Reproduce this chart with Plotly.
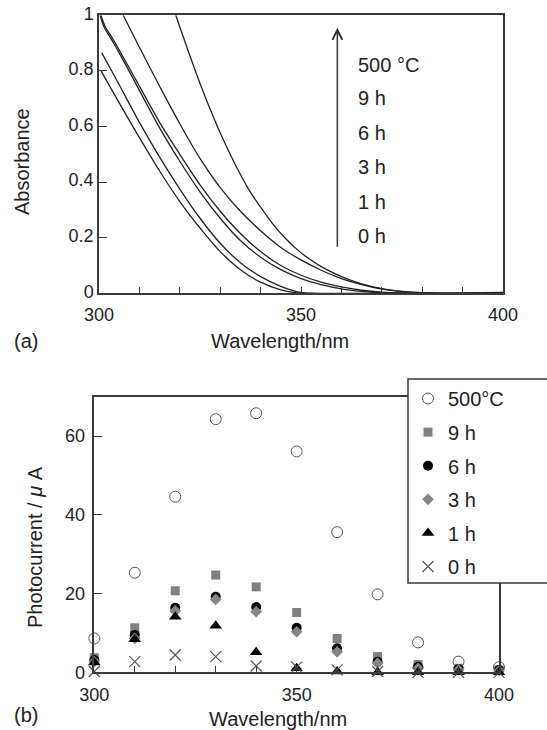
import plotly.graph_objects as go

# ---------------------------------------------------------------------------
# (a) absorbance spectra
# ---------------------------------------------------------------------------
abs_0h_x = [300.5, 305, 310, 315, 320, 325, 330, 335, 340, 345, 348, 350, 360, 380, 400]
abs_0h_y = [0.80, 0.685, 0.56, 0.44, 0.33, 0.235, 0.15, 0.085, 0.04, 0.012, 0.003, 0.0, 0.0, 0.0, 0.0]

abs_1h_x = [300.7, 305, 310, 315, 320, 325, 330, 335, 340, 345, 348, 350, 353, 380, 400]
abs_1h_y = [0.865, 0.75, 0.615, 0.49, 0.375, 0.27, 0.18, 0.11, 0.06, 0.025, 0.01, 0.003, 0.0, 0.0, 0.0]

abs_3h_x = [300.3, 301.2, 303, 305, 310, 315, 320, 325, 330, 335, 340, 345, 350, 355, 360, 365, 370, 375, 400]
abs_3h_y = [1.0, 0.96, 0.915, 0.865, 0.73, 0.595, 0.475, 0.365, 0.27, 0.19, 0.13, 0.085, 0.053, 0.031, 0.016, 0.007, 0.002, 0.0, 0.0]

abs_6h_x = [300.5, 301.5, 303, 305, 310, 315, 320, 325, 330, 335, 340, 345, 350, 355, 360, 365, 370, 375, 380, 400]
abs_6h_y = [1.0, 0.96, 0.925, 0.875, 0.745, 0.615, 0.5, 0.39, 0.295, 0.215, 0.15, 0.1, 0.065, 0.04, 0.023, 0.011, 0.004, 0.001, 0.0, 0.0]

abs_9h_x = [306, 310, 315, 320, 325, 330, 335, 340, 345, 350, 355, 360, 365, 370, 375, 380, 385, 400]
abs_9h_y = [1.0, 0.885, 0.745, 0.61, 0.485, 0.38, 0.295, 0.225, 0.165, 0.12, 0.083, 0.053, 0.031, 0.015, 0.006, 0.002, 0.0, 0.0]

abs_500_x = [319, 322, 325, 328, 331, 334, 337, 340, 343, 346, 349, 352, 355, 360, 365, 370, 375, 380, 385, 395, 400]
abs_500_y = [1.0, 0.875, 0.755, 0.645, 0.545, 0.455, 0.375, 0.31, 0.25, 0.2, 0.158, 0.124, 0.096, 0.06, 0.034, 0.017, 0.007, 0.002, 0.0, 0.002, 0.003]

spectra = [
    (abs_0h_x, abs_0h_y),
    (abs_1h_x, abs_1h_y),
    (abs_3h_x, abs_3h_y),
    (abs_6h_x, abs_6h_y),
    (abs_9h_x, abs_9h_y),
    (abs_500_x, abs_500_y),
]
spectra_labels = ["500 °C", "9 h", "6 h", "3 h", "1 h", "0 h"]

# ---------------------------------------------------------------------------
# (b) photocurrent action spectra
# ---------------------------------------------------------------------------
wavelength = [300, 310, 320, 330, 340, 350, 360, 370, 380, 390, 400]
pc_500 = [8.6, 25.3, 44.6, 64.3, 65.8, 56.1, 35.6, 19.8, 7.6, 2.7, 1.3]
pc_9h = [3.7, 11.3, 20.7, 24.7, 21.7, 15.2, 8.6, 4.0, 2.0, 1.0, 0.6]
pc_6h = [3.1, 9.5, 16.4, 19.2, 16.6, 11.3, 6.1, 2.7, 1.4, 0.8, 0.6]
pc_3h = [2.7, 8.6, 15.6, 18.5, 15.4, 10.3, 5.2, 2.3, 1.0, 0.6, 0.4]
pc_1h = [2.5, 8.4, 14.1, 11.8, 5.1, 1.0, 0.2, 0.0, 0.0, 0.0, 0.0]
pc_0h = [0.2, 2.7, 4.4, 4.0, 1.6, 1.3, 0.6, 0.2, 0.0, 0.0, 0.0]

W, H = 547, 730
FONT = "Arial, Liberation Sans, sans-serif"
AX = "#3a3a3a"

fig = go.Figure()

for xs, ys in spectra:
    fig.add_trace(go.Scatter(x=xs, y=ys, mode="lines", line=dict(color="#222", width=1.3, shape="spline"),
                             showlegend=False, xaxis="x", yaxis="y"))

series = [
    ("500°C", pc_500, dict(symbol="circle-open", size=11, color="#555", line=dict(width=1, color="#555"))),
    ("9 h", pc_9h, dict(symbol="square", size=9, color="#808080")),
    ("6 h", pc_6h, dict(symbol="circle", size=10, color="#000")),
    ("3 h", pc_3h, dict(symbol="diamond", size=9, color="#868686")),
    ("1 h", pc_1h, dict(symbol="triangle-up", size=11, color="#000")),
    ("0 h", pc_0h, dict(symbol="x-thin", size=11, color="#555", line=dict(width=1.2, color="#555"))),
]
for i, (name, vals, mk) in enumerate(series):
    fig.add_trace(go.Scatter(x=wavelength, y=vals, mode="markers", name=name, marker=mk,
                             legendgroup=str(i), cliponaxis=False, xaxis="x2", yaxis="y2"))

ticks10 = list(range(300, 401, 10))
ticktext10 = [str(v) if v in (300, 350, 400) else "" for v in ticks10]

common = dict(showline=True, linecolor=AX, linewidth=1.5, mirror=True, ticks="inside",
              tickcolor=AX, tickwidth=1.2, showgrid=False, zeroline=False,
              tickfont=dict(family=FONT, size=18, color="#222"))

fig.update_layout(
    width=W, height=H,
    margin=dict(l=0, r=0, t=0, b=0, autoexpand=False),
    paper_bgcolor="white", plot_bgcolor="white",
    font=dict(family=FONT, color="#222"),
    xaxis=dict(domain=[99 / W, 503 / W], range=[300, 400], anchor="y",
               tickvals=ticks10, ticktext=ticktext10, ticklen=7, ticklabelstandoff=4, **common),
    yaxis=dict(domain=[1 - 293.3 / H, 1 - 15.3 / H], range=[0, 1], anchor="x",
               tickvals=[0, 0.2, 0.4, 0.6, 0.8, 1], ticktext=["0", "0.2", "0.4", "0.6", "0.8", "1"],
               ticklen=8, ticklabelshift=-2, **common),
    xaxis2=dict(domain=[94.3 / W, 499 / W], range=[300, 400], anchor="y2",
                tickvals=ticks10, ticktext=ticktext10, ticklen=7, ticklabelstandoff=5, **common),
    yaxis2=dict(domain=[1 - 672.3 / H, 1 - 396.7 / H], range=[0, 70], anchor="x2",
                tickvals=[0, 20, 40, 60], ticktext=["0", "20", "40", "60"], ticklen=8,
                ticklabelstandoff=4, **common),
    legend=dict(x=408 / W, y=1 - 379 / H, xanchor="left", yanchor="top",
                bgcolor="rgba(0,0,0,0)", borderwidth=0, tracegroupgap=4.6,
                font=dict(family=FONT, size=20, color="#222")),
    showlegend=True,
)

# legend frame, running off the right edge as in the original
fig.add_shape(type="rect", xref="paper", yref="paper", x0=408 / W, x1=1.05,
              y0=1 - 583 / H, y1=1 - 379 / H, fillcolor="white",
              line=dict(color=AX, width=1.5), layer="above")

# arrow and labels in (a)
fig.add_annotation(x=359, y=0.955, ax=359, ay=0.162, xref="x", yref="y", axref="x", ayref="y",
                   text="", showarrow=True, arrowhead=5, arrowsize=1.3, arrowwidth=1.5, arrowcolor="#333")
label_y = [0.821, 0.701, 0.576, 0.456, 0.330, 0.206]
for lab, yy in zip(spectra_labels, label_y):
    fig.add_annotation(x=363.5, y=yy, xref="x", yref="y", text=lab, showarrow=False,
                       xanchor="left", yanchor="middle", font=dict(family=FONT, size=20, color="#222"))

# titles and panel letters
txt = dict(family=FONT, size=20, color="#222")


def paper_text(px, py, text, angle=0, xanchor="center"):
    fig.add_annotation(x=px / W, y=1 - py / H, xref="paper", yref="paper", text=text,
                       textangle=angle, showarrow=False, font=txt,
                       xanchor=xanchor, yanchor="middle")


paper_text(22, 162, "Absorbance", angle=-90)
paper_text(280, 341, "Wavelength/nm")
paper_text(12, 341, "(a)", xanchor="left")
paper_text(35, 547, "Photocurrent / <i>μ</i> A", angle=-90)
paper_text(278, 719, "Wavelength/nm")
paper_text(12, 715, "(b)", xanchor="left")

# drop the default page margin so the figure sits at the window's corner
fig.write_html("out.html", config={"displayModeBar": False},
               post_script="document.body.style.margin='0px';")
